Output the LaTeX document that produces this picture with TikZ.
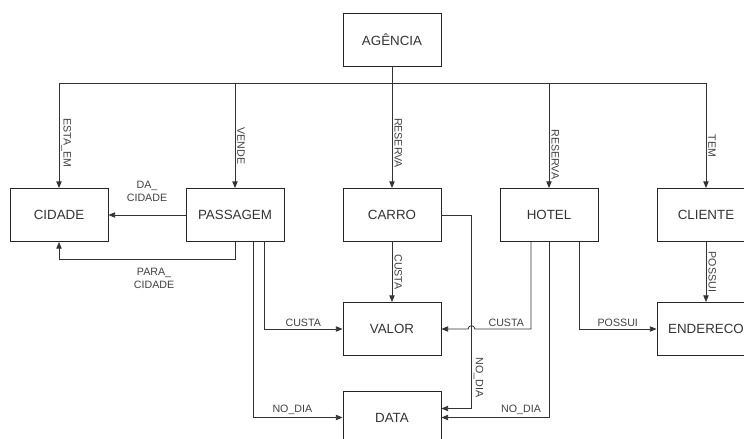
\documentclass[tikz,border=0pt]{standalone}
\usepackage{fontspec}
\setmainfont{Liberation Sans}
\usetikzlibrary{arrows.meta,calc}
\tikzset{
  entbox/.style={draw=black!85,line width=0.7pt,minimum width=73.5pt,minimum height=39.75pt,
    font=\fontsize{10}{12}\selectfont,text=black!80,inner sep=0pt},
  arr/.style={-{Triangle[length=5pt,width=4pt]},line width=0.6pt,draw=black!80},
  lnk/.style={line width=0.6pt,draw=black!80},
  hlab/.style={font=\fontsize{8}{10}\selectfont,text=black!75,inner sep=1.5pt,align=center},
  vlab/.style={hlab,rotate=-90,anchor=south}
}
\begin{document}
\begin{tikzpicture}[x=0.75pt,y=0.75pt]
        \useasboundingbox (0,0) rectangle (744,-439);
        \clip (0,0) rectangle (744,-439);
        \node[entbox] (agencia) at (392,-39.5) {AGÊNCIA};
        \node[entbox] (cidade) at (59,-215) {CIDADE};
        \node[entbox] (passagem) at (235,-215) {PASSAGEM};
        \node[entbox] (carro) at (392,-215) {CARRO};
        \node[entbox] (hotel) at (549,-215) {HOTEL};
        \node[entbox] (cliente) at (706,-215) {CLIENTE};
        \node[entbox] (valor) at (392,-329) {VALOR};
        \node[entbox] (endereco) at (706,-329) {ENDERECO};
        \node[entbox] (data) at (392,-417.5) {DATA};
        \coordinate (busL) at (59,-83);
        \coordinate (busR) at (706,-83);
        \coordinate (jog) at ($(carro.east)+(30,0)$);
        \draw[lnk] (busL) -- (busR);
        \draw[arr] (agencia) -- (carro) node[vlab,pos=0.63] {RESERVA};
        \draw[arr] (busL) -- (cidade) node[vlab,pos=0.57] {ESTA\_EM};
        \draw[arr] (passagem |- busL) -- (passagem) node[vlab,pos=0.6] {VENDE};
        \draw[arr] (hotel |- busL) -- (hotel) node[vlab,pos=0.68] {RESERVA};
        \draw[arr] (cliente |- busL) -- (cliente) node[vlab,pos=0.6] {TEM};
        \draw[arr] (passagem) -- (cidade) node[hlab,midway,above=8pt] {DA\_\\CIDADE};
        \draw[arr] (passagem.south) -- ++(0,-17) -| node[hlab,pos=0.23,below=5pt] {PARA\_\\CIDADE} (cidade.south);
        \draw[arr] (carro) -- (valor) node[vlab,midway] {CUSTA};
        \draw[arr] ($(passagem.south)+(29,0)$) |- node[hlab,pos=0.75,above] {CUSTA} (valor);
        \draw[arr] ($(passagem.south)+(18,0)$) |- node[hlab,pos=0.72,above] {NO\_DIA} (data);
        \draw[arr] (carro.east) -- (jog) |- node[vlab,pos=0.42] {NO\_DIA} ($(data.east)+(0,9)$);
        \draw[arr] ($(hotel.south)+(-18,0)$) |- node[hlab,pos=0.72,above] {CUSTA} ([xshift=2.5pt]jog |- valor.east)
            arc[start angle=0,end angle=180,radius=2.5pt] -- (valor.east);
        \draw[arr] (hotel.south) |- node[hlab,pos=0.63,above] {NO\_DIA} (data.east);
        \draw[arr] ($(hotel.south)+(30,0)$) |- node[hlab,pos=0.75,above] {POSSUI} (endereco.west);
        \draw[arr] (cliente) -- (endereco) node[vlab,midway] {POSSUI};
\end{tikzpicture}
\end{document}
